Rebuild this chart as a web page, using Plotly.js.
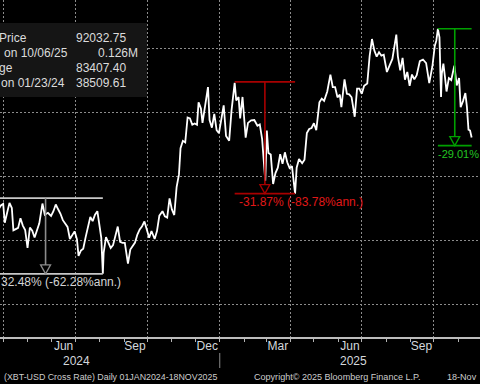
<!DOCTYPE html>
<html><head><meta charset="utf-8">
<script src="https://cdn.plot.ly/plotly-3.0.1.min.js"></script>
<style>html,body{margin:0;padding:0;background:#000;}#chart{width:480px;height:384px;}</style>
</head><body><div id="chart"></div>
<script>
// ---- data (XBT-USD daily, values in USD) ----
const dates = [
'2024-01-01','2024-01-05','2024-01-09','2024-01-12','2024-01-16','2024-01-19','2024-01-23','2024-01-27','2024-01-31',
'2024-02-04','2024-02-08','2024-02-12','2024-02-16','2024-02-20','2024-02-24','2024-02-28',
'2024-03-03','2024-03-07','2024-03-11','2024-03-14','2024-03-17','2024-03-20','2024-03-23','2024-03-26','2024-03-28','2024-03-31',
'2024-04-02','2024-04-05','2024-04-08','2024-04-11','2024-04-13','2024-04-16','2024-04-19','2024-04-22','2024-04-25','2024-04-28',
'2024-05-01','2024-05-04','2024-05-07','2024-05-10','2024-05-13','2024-05-16','2024-05-20','2024-05-23','2024-05-27','2024-05-31',
'2024-06-03','2024-06-06','2024-06-09','2024-06-12','2024-06-15','2024-06-18','2024-06-21','2024-06-24','2024-06-27','2024-06-30',
'2024-07-03','2024-07-05','2024-07-08','2024-07-11','2024-07-14','2024-07-17','2024-07-20','2024-07-23','2024-07-26','2024-07-29',
'2024-08-01','2024-08-03','2024-08-05','2024-08-06','2024-08-09','2024-08-12','2024-08-15','2024-08-18','2024-08-21','2024-08-24','2024-08-27','2024-08-30',
'2024-09-02','2024-09-06','2024-09-09','2024-09-12','2024-09-15','2024-09-18','2024-09-21','2024-09-24','2024-09-27','2024-09-30',
'2024-10-03','2024-10-06','2024-10-10','2024-10-13','2024-10-16','2024-10-20','2024-10-23','2024-10-26','2024-10-29',
'2024-11-01','2024-11-04','2024-11-07','2024-11-10','2024-11-12','2024-11-15','2024-11-18','2024-11-21','2024-11-24','2024-11-27','2024-11-30',
'2024-12-03','2024-12-05','2024-12-08','2024-12-10','2024-12-13','2024-12-17','2024-12-19','2024-12-22','2024-12-25','2024-12-28','2024-12-31',
'2025-01-03','2025-01-06','2025-01-09','2025-01-13','2025-01-16','2025-01-20','2025-01-22','2025-01-25','2025-01-27','2025-01-30',
'2025-02-03','2025-02-06','2025-02-10','2025-02-14','2025-02-18','2025-02-21','2025-02-24','2025-02-26','2025-02-28',
'2025-03-02','2025-03-04','2025-03-07','2025-03-10','2025-03-13','2025-03-16','2025-03-19','2025-03-22','2025-03-25','2025-03-28','2025-03-31',
'2025-04-03','2025-04-07','2025-04-09','2025-04-12','2025-04-16','2025-04-19','2025-04-22','2025-04-25','2025-04-28',
'2025-05-01','2025-05-04','2025-05-08','2025-05-11','2025-05-14','2025-05-18','2025-05-22','2025-05-25','2025-05-28','2025-05-31',
'2025-06-03','2025-06-05','2025-06-09','2025-06-12','2025-06-15','2025-06-18','2025-06-22','2025-06-25','2025-06-28',
'2025-07-01','2025-07-04','2025-07-08','2025-07-11','2025-07-14','2025-07-17','2025-07-20','2025-07-23','2025-07-26','2025-07-29',
'2025-08-02','2025-08-06','2025-08-09','2025-08-14','2025-08-16','2025-08-19','2025-08-22','2025-08-25','2025-08-28','2025-08-31',
'2025-09-03','2025-09-06','2025-09-09','2025-09-13','2025-09-17','2025-09-21','2025-09-25','2025-09-29',
'2025-10-02','2025-10-04','2025-10-06','2025-10-08','2025-10-10','2025-10-11','2025-10-13','2025-10-15','2025-10-17','2025-10-20','2025-10-23','2025-10-27','2025-10-30',
'2025-11-02','2025-11-04','2025-11-07','2025-11-10','2025-11-12','2025-11-14','2025-11-16','2025-11-17','2025-11-18'
];
const prices = [
44200,44100,46100,42800,43100,41600,38500,42100,42600,
42600,45300,49900,52100,52000,51700,62400,
63100,66900,72100,73100,68400,67900,64000,70000,70800,71300,
65400,68500,71600,70000,63000,63400,63800,66800,64500,63100,
57500,63900,62900,60800,62900,65200,71400,67900,68500,67500,
69000,71100,69600,68200,66200,65100,64100,60300,61600,62700,
60200,55000,56700,57300,60800,64100,67200,65900,67900,69000,
64600,60700,49500,56000,60900,59300,57500,58400,61100,64200,59400,59100,
59100,52600,57000,58100,59200,61700,63300,64300,65800,63300,
60700,62800,60300,62800,67600,69000,67400,67000,73000,
69500,67800,76500,80500,88700,91000,90500,98300,98000,96000,96400,
96000,103000,101100,96600,101400,107800,97500,95100,99400,94300,93400,
98100,102100,92500,91000,100500,109100,103600,104700,98000,104700,
92000,96600,97400,97500,95700,96100,91500,84300,78500,
94200,87200,86700,77500,80900,82600,86800,83800,87400,84300,82500,
83100,74500,82600,85300,84000,85100,93400,94700,95000,
96500,94300,103000,104200,103500,106400,111700,107800,107800,104600,
105400,101500,110200,105700,105500,104600,98500,107300,107300,
105700,108200,108900,117500,122800,119200,117300,118700,117600,117900,
112500,114900,116600,124200,117400,113000,116900,110100,112500,108200,
111700,110200,111500,115900,116400,115300,109000,114300,
120600,122300,126000,123300,104700,112000,115100,111000,106400,110600,110000,114500,108300,
110600,101500,103400,105900,101600,94500,94200,92200,92032.75
];
const monthTickDates = ['2024-06-16','2024-09-15','2024-12-16','2025-03-16','2025-06-16','2025-09-15'];
const monthTickText  = ['Jun','Sep','Dec','Mar','Jun','Sep'];
const yearLabels = ['2024','2025'];
const yearLabelDates = ['2024-07-02','2025-06-20'];
// drawdown studies (labels as visible in the cropped view)
const ddStart  = ['2024-03-12','2025-01-20','2025-10-06'];
const ddEnd    = ['2024-08-05','2025-04-07','2025-11-18'];
const ddPeak   = [73100,109400,126000];
const ddTrough = [49400,74500,89500];
const ddText   = ['32.48% (-62.28%ann.)','-31.87% (-83.78%ann.)','-29.01%'];
// stats box (visible part of each row)
const statLabels = ['Price','on 10/06/25','ge','on 01/23/24'];
const statValues = ['92032.75','0.126M','83407.40','38509.61'];
const footerLeft = '(XBT-USD Cross Rate) Daily 01JAN2024-18NOV2025';
const footerMid  = 'Copyright\u00A9 2025 Bloomberg Finance L.P.';
const footerRight = '18-Nov';

// ---- styles ----
const W = 480, H = 384, PB = 47, PH = H - PB;
const FONT = 'Liberation Sans, Arial, sans-serif';
const ddLineColor  = ['#c8c8c8','#a80000','#00a000'];
const ddArrowColor = ['#8c8c8c','#a80000','#00a000'];
const ddTextColor  = ['#d4d4d4','#e01818','#22c422'];
const px = x => x / W;
const py = y => (PH - y) / PH;
const xRange = ['2024-03-26 22:00','2025-11-28 16:00'];
const xStartMs = new Date('2024-03-26T22:00:00Z').getTime();

function midDate(a, b){
  const ta = new Date(a + 'T00:00:00Z').getTime(), tb = new Date(b + 'T00:00:00Z').getTime();
  return new Date((ta + tb) / 2).toISOString().slice(0,19).replace('T',' ');
}

const shapes = [];
const annotations = [];

// stats box background
shapes.push({type:'rect', xref:'paper', yref:'paper', x0:-0.1, x1:px(147), y0:py(97), y1:py(23),
  fillcolor:'#151515', line:{width:0}, layer:'above'});
const rowY = [38.3, 53.3, 68.3, 83.3];
const labelRight = [29, 70, 15, 67];
statLabels.forEach((t,i)=>{
  annotations.push({xref:'paper', yref:'paper', x:px(labelRight[i]), y:py(rowY[i]), xanchor:'right', yanchor:'middle',
    text:t, showarrow:false, font:{family:FONT, size:12, color:'#dcdcdc'}});
});
statValues.forEach((t,i)=>{
  const right = /M$/.test(t);
  annotations.push({xref:'paper', yref:'paper', x: right ? px(140) : px(74), y:py(rowY[i]),
    xanchor: right ? 'right' : 'left', yanchor:'middle',
    text:t, showarrow:false, font:{family:FONT, size:12, color:'#dcdcdc'}});
});

// drawdown studies
ddStart.forEach((s,i)=>{
  const m = midDate(s, ddEnd[i]);
  shapes.push({type:'line', xref:'x', yref:'y', x0:s, x1:ddEnd[i], y0:ddPeak[i], y1:ddPeak[i], line:{color:ddLineColor[i], width:1.6}, layer:'above'});
  shapes.push({type:'line', xref:'x', yref:'y', x0:s, x1:ddEnd[i], y0:ddTrough[i], y1:ddTrough[i], line:{color:ddLineColor[i], width:1.6}, layer:'above'});
  shapes.push({type:'line', xref:'x', yref:'y', x0:m, x1:m, y0:ddPeak[i], y1:ddTrough[i], line:{color:ddArrowColor[i], width:1.6}, layer:'above'});
  shapes.push({type:'path', xref:'x', yref:'y', xsizemode:'pixel', ysizemode:'pixel', xanchor:m, yanchor:ddTrough[i],
    path:'M-5,9 L5,9 L0,0 Z', fillcolor:'#000', line:{color:ddArrowColor[i], width:1.3}, layer:'above'});
  const offLeft = new Date(s + 'T00:00:00Z').getTime() < xStartMs;
  annotations.push({xref:'x', yref:'y', x: offLeft ? xRange[0] : s, y:ddTrough[i], xanchor:'left', yanchor:'middle',
    xshift: offLeft ? -1 : (i === 2 ? -2 : 2), yshift:-8,
    text:ddText[i], showarrow:false, font:{family:FONT, size: i === 2 ? 11 : 12, color:ddTextColor[i]}});
});

// year labels + separator
yearLabels.forEach((t,i)=>{
  annotations.push({xref:'x', yref:'paper', x:yearLabelDates[i], y:py(361), xanchor:'center', yanchor:'middle',
    text:t, showarrow:false, font:{family:FONT, size:12, color:'#d4d8dc'}});
});
shapes.push({type:'line', xref:'x', yref:'paper', x0:'2025-01-01', x1:'2025-01-01', y0:py(353), y1:py(368),
  line:{color:'#8a8a8a', width:1}});

// footer
annotations.push({xref:'paper', yref:'paper', x:px(2), y:py(377), xanchor:'left', yanchor:'middle', text:footerLeft,
  showarrow:false, font:{family:FONT, size:8.85, color:'#cccccc'}});
annotations.push({xref:'paper', yref:'paper', x:px(252), y:py(377), xanchor:'left', yanchor:'middle', text:footerMid,
  showarrow:false, font:{family:FONT, size:9.05, color:'#cccccc'}});
annotations.push({xref:'paper', yref:'paper', x:px(479), y:py(377), xanchor:'right', yanchor:'middle', text:footerRight,
  showarrow:false, font:{family:FONT, size:9.05, color:'#cccccc'}});

const gridStyle = {showgrid:true, gridcolor:'#8c8c8c', gridwidth:1, griddash:'2px,2px'};

const traces = [
  {type:'scatter', mode:'lines', x:dates, y:prices, line:{color:'#ffffff', width:1.8}, hoverinfo:'skip', showlegend:false},
  {type:'scatter', mode:'lines', x:[], y:[], xaxis:'x2', yaxis:'y', hoverinfo:'skip', showlegend:false}
];

const layout = {
  width:W, height:H, margin:{l:0, r:0, t:0, b:PB, pad:0},
  paper_bgcolor:'#000', plot_bgcolor:'#000', showlegend:false,
  font:{family:FONT, color:'#d4d8dc'},
  xaxis:Object.assign({type:'date', range:xRange, tickmode:'linear', tick0:'2024-01-01', dtick:'M3',
    showticklabels:false, ticks:'outside', ticklen:3, tickcolor:'#b4b4b4', tickwidth:1,
    minor:{dtick:'M1', tick0:'2024-01-01', ticks:'outside', ticklen:3, tickcolor:'#b4b4b4', tickwidth:1, showgrid:false},
    showline:true, linecolor:'#bcbcbc', linewidth:2, zeroline:false, fixedrange:true}, gridStyle),
  xaxis2:{type:'date', overlaying:'x', anchor:'y', side:'bottom', range:xRange, tickmode:'array',
    tickvals:monthTickDates, ticktext:monthTickText, ticks:'', showgrid:false, showline:false, zeroline:false,
    tickfont:{family:FONT, size:12, color:'#d4d8dc'}, fixedrange:true},
  yaxis:Object.assign({range:[29687.5, 135000], tickmode:'linear', tick0:0, dtick:20000, showticklabels:false,
    ticks:'', zeroline:false, showline:false, fixedrange:true}, gridStyle),
  shapes:shapes, annotations:annotations
};

Plotly.newPlot('chart', traces, layout, {staticPlot:true, displayModeBar:false});
</script>
</body></html>
